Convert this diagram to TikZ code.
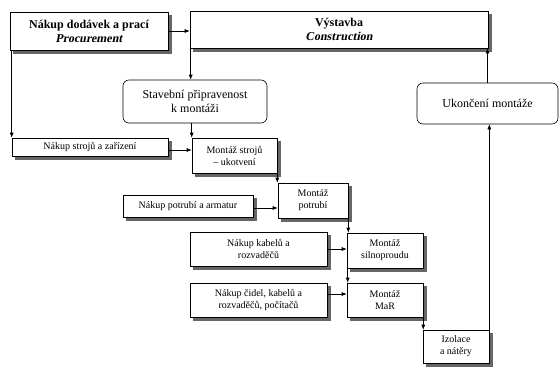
\documentclass[tikz,border=0pt]{standalone}
\usepackage{fontspec}
\setmainfont{Liberation Serif}
\newfontfamily\slantbold{Liberation Serif}[FakeSlant=0.2]
\usetikzlibrary{arrows.meta, backgrounds}

\tikzset{
    box/.style={draw, line width=0.6pt, fill=white, inner sep=1pt, align=center,
        font=\fontsize{10}{12}\selectfont},
    bigbox/.style={box, font=\bfseries\fontsize{12}{14}\selectfont},
    roundbox/.style={draw, line width=0.6pt, rounded corners=6pt, align=center,
        font=\fontsize{12}{14}\selectfont},
    boxshadow/.style={fill=black!60},
    arr/.style={-{Latex[length=5pt, width=4pt]}, line width=0.6pt}
}

\begin{document}
\begin{tikzpicture}[x=1pt, y=-1pt]
    \useasboundingbox (0,0) rectangle (559,367);

    % Top level: procurement and construction
    \node[bigbox, minimum width=158pt, minimum height=38pt] (proc) at (89,31)
        {Nákup dodávek a prací\\{\slantbold\bfseries Procurement}};
    \node[bigbox, minimum width=298pt, minimum height=37pt] (constr) at (339,29.5)
        {Výstavba\\{\slantbold\bfseries Construction}};

    % Milestones (rounded)
    \node[roundbox, minimum width=144pt, minimum height=43pt] (ready) at (195,101.5)
        {Stavební připravenost\\k montáži};
    \node[roundbox, minimum width=141pt, minimum height=41pt] (finish) at (487.5,103.5)
        {Ukončení montáže};

    % Purchase boxes on the left
    \node[box, minimum width=156pt, minimum height=18pt] (buyMach) at (90,147)
        {Nákup strojů a zařízení};
    \node[box, minimum width=130pt, minimum height=22pt] (buyPipe) at (188,206)
        {Nákup potrubí a armatur};
    \node[box, minimum width=137pt, minimum height=34pt] (buyCable) at (258.5,249)
        {Nákup kabelů a\\rozvaděčů};
    \node[box, minimum width=137pt, minimum height=34pt] (buySensor) at (258.5,300)
        {Nákup čidel, kabelů a\\rozvaděčů, počítačů};

    % Assembly boxes, stepping down to the right
    \node[box, minimum width=85pt, minimum height=35pt] (mountMach) at (234.5,155.5)
        {Montáž strojů\\-- ukotvení};
    \node[box, minimum width=70pt, minimum height=35pt] (mountPipe) at (313,200.5)
        {Montáž\\potrubí};
    \node[box, minimum width=76pt, minimum height=35pt] (mountPower) at (385,250.5)
        {Montáž\\silnoproudu};
    \node[box, minimum width=76pt, minimum height=34pt] (mountMaR) at (385,300)
        {Montáž\\MaR};
    \node[box, minimum width=66pt, minimum height=33pt] (insul) at (456,346.5)
        {Izolace\\a nátěry};

    % Shadows behind the square boxes
    \begin{pgfonlayer}{background}
        \foreach \b in {proc,constr,buyMach,buyPipe,buyCable,buySensor,mountMach,mountPipe,mountPower,mountMaR,insul}{
            \fill[boxshadow] ([shift={(3.5pt,-3.5pt)}]\b.south west)
                rectangle ([shift={(3.5pt,-3.5pt)}]\b.north east);
        }
    \end{pgfonlayer}

    % Top connectors
    \draw[arr] (proc.east) -- (constr.west |- proc.east);
    \draw[arr] ([xshift=1pt]constr.south west) -- ([xshift=1pt]constr.south west |- ready.north);
    \draw[arr] ([xshift=2pt]proc.south west) -- ([xshift=2pt]proc.south west |- buyMach.north);
    \draw[arr] (mountMach.north west |- ready.south) -- (mountMach.north west);

    % Purchases feed the assemblies
    \draw[arr] ([yshift=-3pt]buyMach.east) -- ([yshift=-3pt]mountMach.west |- buyMach.east);
    \draw[arr] ([yshift=-2pt]buyPipe.east) -- ([yshift=-2pt]mountPipe.west |- buyPipe.east);
    \draw[arr] (buyCable.east) -- (mountPower.west |- buyCable.east);
    \draw[arr] ([yshift=6pt]buySensor.east) -- ([yshift=6pt]mountMaR.west |- buySensor.east);

    % Assembly sequence
    \draw[arr] (mountMach.south east) -- (mountMach.south east |- mountPipe.north);
    \draw[arr] (mountPipe.south east) -- (mountPipe.south east |- mountPower.north);
    \draw[arr] ([xshift=1pt]mountPower.south west) -- ([xshift=1pt]mountMaR.north west);
    \draw[arr] (mountMaR.south east) -- (mountMaR.south east |- insul.north);

    % Back up to construction
    \draw[arr] (insul.north east) -- (insul.north east |- finish.south);
    \draw[arr] (finish.north) -- (finish.north |- constr.south);
\end{tikzpicture}
\end{document}
